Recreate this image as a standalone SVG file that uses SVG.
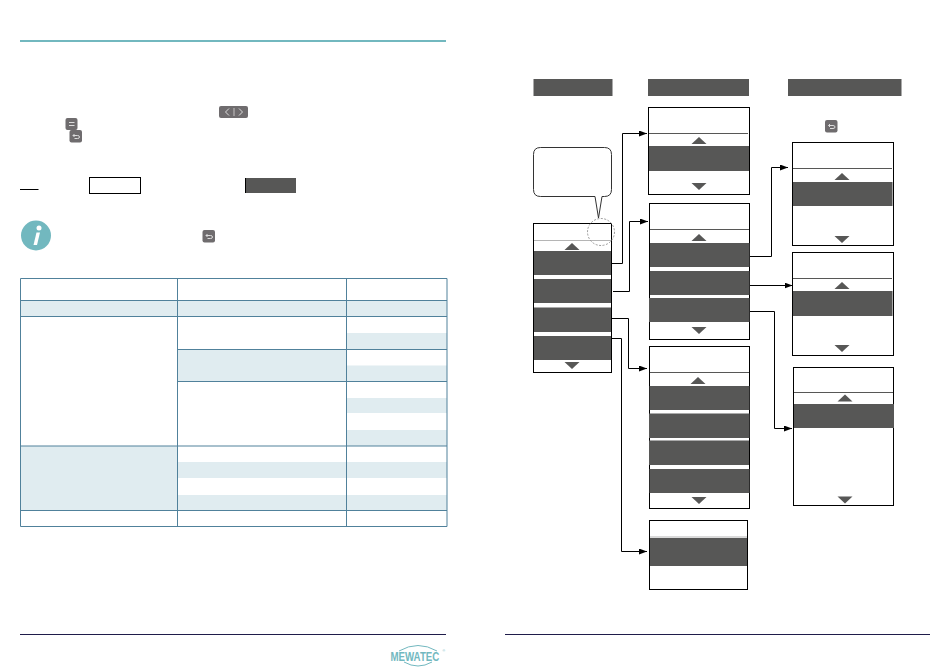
<svg xmlns="http://www.w3.org/2000/svg" width="950" height="667" viewBox="0 0 950 667">
<style>
.bg{fill:#fff}
.box{fill:#fff;stroke:#000;stroke-width:1}
.bar{fill:#575756}
.sep{stroke:#575756;stroke-width:1;fill:none}
.tint{fill:#e0ecf0}
.tb{stroke:#50819b;stroke-width:1;fill:none}
.rule{stroke:#1f1c4a;stroke-width:1;fill:none}
.conn{stroke:#000;stroke-width:1;fill:none;marker-end:url(#arrow)}
.key{fill:#6f6c6e}
.keym{stroke:#dcdcdc;stroke-width:1;fill:none}
</style>
<defs>
<marker id="arrow" markerUnits="userSpaceOnUse" markerWidth="8" markerHeight="6" refX="8" refY="3" orient="auto"><path d="M0 0L8 3L0 6Z" fill="#000"/></marker>
<path id="up" class="bar" d="M-7.500 3.500L0 -3.500L7.500 3.500Z"/>
<path id="down" class="bar" d="M-7.500 -3.500L7.500 -3.500L0 3.500Z"/>
<g id="backkey"><rect class="key" width="12.500" height="12.500" rx="2"/><path class="keym" d="M3.500 5.500H8Q10 5.500 10 7Q10 8.500 8 8.500H5M3.500 5.500L5 4M3.500 5.500L5 7"/></g>
</defs>
<rect class="bg" width="950" height="667"/>

<g id="page-left">
<rect x="20" y="40" width="426" height="2" fill="#72b8bf"/>
<g id="key-arrows"><rect class="key" x="219" y="106" width="29" height="12" rx="2"/><path class="keym" d="M229 108.500L225.500 112L229 115.500M239 108.500L242.500 112L239 115.500"/><path d="M234 108V116" stroke="#a8a6a7" stroke-width="1.500"/></g>
<g id="key-menu"><rect class="key" x="65.500" y="118" width="12" height="12" rx="2"/><path class="keym" d="M69 122.500H74.500M69 125.500H74.500"/></g>
<use href="#backkey" x="69.500" y="130"/>
<path d="M20 189.500H38.500" stroke="#000" stroke-width="1"/>
<rect class="box" x="89.500" y="177.500" width="51" height="16"/>
<rect class="bar" x="245" y="178" width="51" height="15"/>
<path d="M245.500 178V193" stroke="#000"/>
<g id="info"><circle cx="36" cy="235.500" r="15" fill="#72b8bf"/><path d="M36.500 232.500H40L37 245H33.500Z" fill="#fff"/><circle cx="39" cy="228" r="2.500" fill="#fff"/></g>
<use href="#backkey" x="202.500" y="230"/>
</g>

<g id="table">
<rect class="tint" x="20" y="300" width="427" height="16"/>
<rect class="tint" x="346" y="333" width="101" height="16"/>
<rect class="tint" x="177" y="349" width="170" height="32"/>
<rect class="tint" x="346" y="365.500" width="101" height="16"/>
<rect class="tint" x="346" y="398" width="101" height="15"/>
<rect class="tint" x="346" y="430" width="101" height="16"/>
<rect class="tint" x="20" y="446" width="157" height="64"/>
<rect class="tint" x="177" y="462" width="270" height="16"/>
<rect class="tint" x="177" y="495" width="270" height="15"/>
<path class="tb" d="M20.500 278.500H447V526.500H20.500ZM177.500 278.500V526.500M346.500 278.500V526.500M20.500 300.500H447M20.500 316.500H447M177.500 349.500H447M177.500 381.500H447M20.500 446H447M20.500 510.500H447"/>
</g>

<g id="footer">
<path class="rule" d="M20 634.500H446M505 634.500H930"/>
<g id="logo"><text transform="translate(390.500 661) scale(.775 1)" font-family="'Liberation Sans',Arial,sans-serif" font-size="12.500" font-weight="700" fill="#72b8bf">MEWATEC</text>
<text x="442.500" y="652" font-family="'Liberation Sans',Arial,sans-serif" font-size="3.500" fill="#72b8bf">®</text>
<path d="M399 651Q418 640 437 651M404 662Q418 670 432 662" fill="none" stroke="#72b8bf" stroke-width="1"/></g>
</g>

<g id="header-1"><rect class="bar" x="533.500" y="79" width="79" height="17"/></g>
<g id="header-2"><rect class="bar" x="648" y="79" width="101" height="17"/></g>
<g id="header-3"><rect class="bar" x="788" y="79" width="113.500" height="17"/></g>
<use id="key-back" href="#backkey" x="825" y="120"/>

<g id="callout"><path d="M540.500 147.500H604.500Q611.500 147.500 611.500 154.500V189.500Q611.500 196.500 604.500 196.500H602L598.500 218L595 196.500H540.500Q533.500 196.500 533.500 189.500V154.500Q533.500 147.500 540.500 147.500Z" fill="#fff" stroke="#333" stroke-width="1"/></g>

<g id="menu-main">
<rect class="box" x="533.500" y="223.500" width="78" height="149"/>
<path d="M534 240.500H611" stroke="#b5b5b5"/>
<use href="#up" x="572" y="246.500"/>
<rect class="bar" x="534" y="251" width="77" height="24"/>
<rect class="bar" x="534" y="279" width="77" height="24"/>
<rect class="bar" x="534" y="307.500" width="77" height="24.500"/>
<rect class="bar" x="534" y="336" width="77" height="24"/>
<use href="#down" x="572" y="365.500"/>
</g>
<circle id="callout-ring" cx="601" cy="232" r="13.500" fill="none" stroke="#999" stroke-width="1" stroke-dasharray="2 1.500"/>

<g id="menu-a">
<rect class="box" x="648.500" y="107.500" width="101" height="87"/>
<path class="sep" d="M649 133.500H748"/>
<use href="#up" x="699" y="140.500"/>
<rect class="bar" x="649" y="146" width="100" height="25"/>
<use href="#down" x="699" y="186.500"/>
</g>

<g id="menu-b">
<rect class="box" x="649.500" y="203.500" width="100" height="136"/>
<path class="sep" d="M650 229.500H749"/>
<use href="#up" x="699" y="237.500"/>
<rect class="bar" x="650" y="243" width="99.500" height="24"/>
<rect class="bar" x="650" y="271" width="99.500" height="24"/>
<rect class="bar" x="649" y="298" width="100.500" height="24"/>
<use href="#down" x="699" y="330.500"/>
</g>

<g id="menu-c">
<rect class="box" x="649.500" y="346.500" width="100" height="162"/>
<path class="sep" d="M650 372.500H749"/>
<use href="#up" x="698" y="380.500"/>
<rect class="bar" x="649.500" y="386" width="100" height="24"/>
<rect class="bar" x="649" y="413.500" width="100.500" height="24.500"/>
<rect class="bar" x="649" y="440.500" width="100" height="24.500"/>
<rect class="bar" x="649.500" y="469" width="100" height="24"/>
<use href="#down" x="699" y="500.500"/>
</g>

<g id="menu-d">
<rect class="box" x="649.500" y="520.500" width="98" height="69"/>
<path d="M650 537H747" stroke="#b5b5b5"/>
<rect class="bar" x="650" y="538" width="97" height="28"/>
</g>

<g id="menu-e">
<rect class="box" x="792.500" y="142.500" width="101" height="103"/>
<path class="sep" d="M793 168.500H892"/>
<use href="#up" x="842" y="176.500"/>
<rect class="bar" x="793" y="182" width="99.500" height="24"/>
<use href="#down" x="842" y="239.500"/>
</g>

<g id="menu-f">
<rect class="box" x="792.500" y="252.500" width="101" height="103"/>
<path class="sep" d="M793 278.500H892"/>
<use href="#up" x="842" y="285.500"/>
<rect class="bar" x="793" y="291" width="99.500" height="25"/>
<use href="#down" x="842" y="348.500"/>
</g>

<g id="menu-g">
<rect class="box" x="793.500" y="367.500" width="100" height="138"/>
<path class="sep" d="M794 392.500H893"/>
<use href="#up" x="845" y="398"/>
<rect class="bar" x="794" y="404" width="100" height="24"/>
<use href="#down" x="845" y="500"/>
</g>

<g id="connectors">
<path class="conn" d="M612 263.500H622.500V133.500H647"/>
<path class="conn" d="M613 291.500H629.500V221.500H648"/>
<path class="conn" d="M612 318.500H628.500V368.500H647"/>
<path class="conn" d="M612 338.500H621.500V551.500H647"/>
<path class="conn" d="M750 256.500H771.500V167.500H788"/>
<path class="conn" d="M750 285.500H792.500"/>
<path class="conn" d="M750 311.500H774.500V428.500H792"/>
</g>
</svg>
